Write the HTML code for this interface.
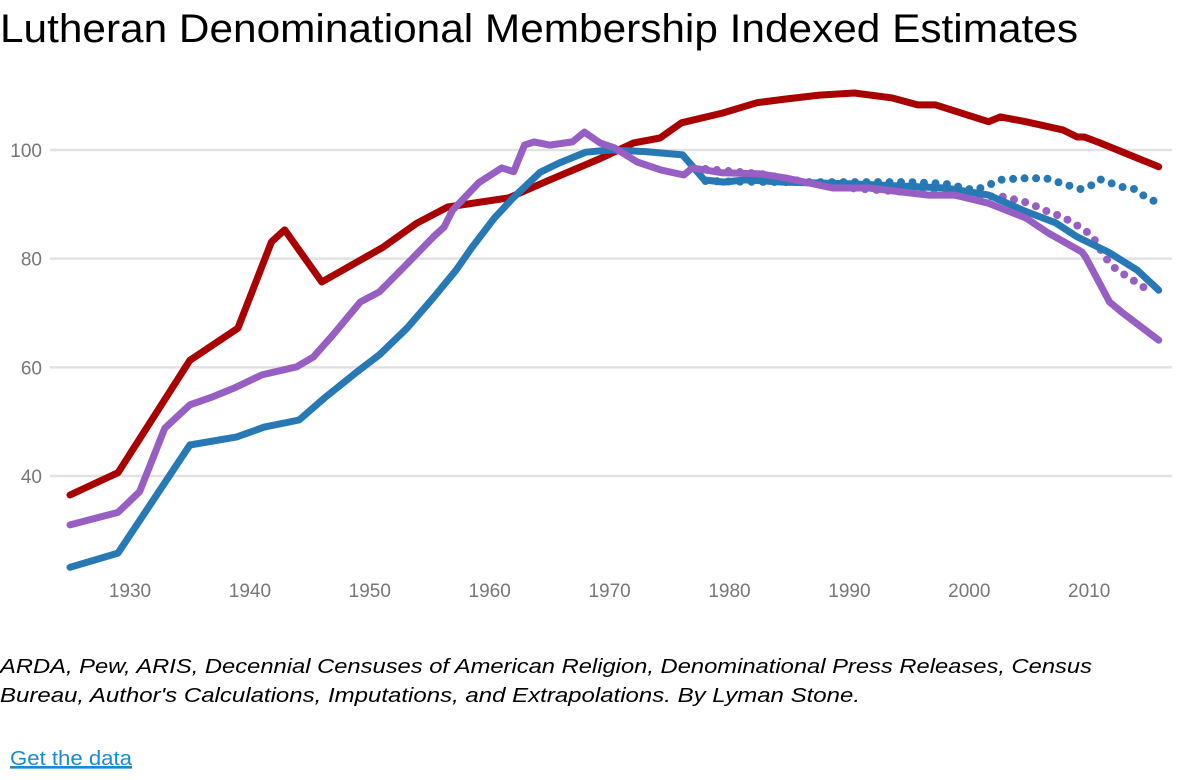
<!DOCTYPE html>
<html><head><meta charset="utf-8"><style>
html,body{margin:0;padding:0;background:#fff;}
svg{display:block;font-family:"Liberation Sans",Arial,sans-serif;}
</style></head><body>
<svg id="chart" width="1180" height="780" viewBox="0 0 1180 780" xmlns="http://www.w3.org/2000/svg">
<text x="0" y="42" font-size="40" fill="#000" textLength="1078" lengthAdjust="spacingAndGlyphs">Lutheran Denominational Membership Indexed Estimates</text>
<g id="grid"></g><g id="yticks"></g><g id="xticks"></g><g id="lines"></g>
<text x="0" y="673" font-size="20" font-style="italic" fill="#000" textLength="1092" lengthAdjust="spacingAndGlyphs">ARDA, Pew, ARIS, Decennial Censuses of American Religion, Denominational Press Releases, Census</text>
<text x="0" y="702" font-size="20" font-style="italic" fill="#000" textLength="860" lengthAdjust="spacingAndGlyphs">Bureau, Author's Calculations, Imputations, and Extrapolations. By Lyman Stone.</text>
<text x="10" y="765" font-size="20" fill="#1a8ad0" text-decoration="underline" textLength="122" lengthAdjust="spacingAndGlyphs">Get the data</text>
<line x1="10" y1="768" x2="132" y2="768" stroke="#1a8ad0" stroke-width="1.2"/>
</svg>
<script>
const yTicks=[40,60,80,100];
const xTicks=[1930,1940,1950,1960,1970,1980,1990,2000,2010];
const redYears=[1925,1929,1935,1939,1941.8,1942.9,1946,1951.1,1953.9,1956.5,1961.6,1965,1969.3,1972,1974.2,1976,1979.4,1982.3,1984.8,1987.5,1990.4,1993.5,1995.7,1997.2,2001.6,2002.6,2004.7,2007.8,2009,2009.6,2010.9,2015.8];
const redVals=[36.5,40.6,61.3,67.2,83.1,85.3,75.7,82.1,86.5,89.5,91.2,94.5,98.5,101.3,102.2,105,106.8,108.7,109.4,110.1,110.5,109.6,108.3,108.3,105.2,106.1,105.2,103.7,102.4,102.4,101.3,96.9];
const blueYears=[1925,1929,1935,1938.9,1941.2,1944.1,1946.3,1948.9,1950.8,1953.1,1955.3,1957.2,1958.5,1960.4,1962,1964.2,1965.8,1968,1970,1973,1976.1,1977.9,1979.5,1981.3,1984.5,1990,1995,1998,2000,2001.6,2004.7,2007.2,2009,2011.6,2014,2015.8];
const blueVals=[23.2,25.8,45.7,47.2,49,50.3,54.5,59.1,62.3,67.2,72.8,77.9,82,87.5,91.3,95.9,97.6,99.6,100,99.7,99.1,94.5,94.1,94.5,94.1,93.8,93.3,93,92.3,91.7,88.7,86.6,84,81.2,77.9,74.2];
const blueDotYears=[1978,1980,1984.5,1990,1995,1998,2000.4,2001.6,2002.5,2004.3,2006.4,2008.4,2009.3,2010.1,2010.9,2012.7,2013.8,2014.6,2015.6];
const blueDotVals=[94.3,94.2,94.1,94.1,94.1,93.8,92.6,93.5,94.5,94.8,94.8,93.4,92.8,93.4,94.6,93.2,92.8,91.5,90.4];
const purpleYears=[1925,1929,1930.8,1932.9,1935,1936.7,1938.7,1941,1943.9,1945.3,1946.9,1949.2,1950.8,1953,1955.3,1956.2,1956.9,1959.1,1961,1962,1962.9,1963.7,1965,1966.9,1967.9,1969.2,1970.4,1972.3,1974.3,1976.2,1976.9,1979.4,1982.6,1984.8,1988.6,1991.6,1996.6,1998.8,2001.6,2004.7,2006.6,2009.4,2009.7,2011.7,2012.8,2015.8];
const purpleVals=[31,33.3,37.1,48.8,53.1,54.4,56.2,58.6,60.1,61.9,65.9,72,73.9,78.8,84,85.8,88.9,94,96.7,96,100.9,101.5,100.9,101.5,103.3,101.3,100.4,97.8,96.3,95.4,96.7,95.8,95.6,94.8,93,93,91.7,91.7,90.2,87.5,84.7,81.2,80.3,72,70,65];
const purpleDotYears=[1978,1982.6,1988.6,1996.6,2000,2002.8,2005,2006.8,2007.8,2008.6,2009.5,2010.3,2010.8,2011.3,2012,2012.7,2013.6,2014.4,2015.4];
const purpleDotVals=[96.5,95.6,93.2,92,91.6,91.4,90.2,88.4,87.7,86.6,85.5,84,82.2,80.3,78.5,77.4,76.1,74.9,73.9];

const NS='http://www.w3.org/2000/svg';
const xS=y=>130+(y-1930)*11.99;
const yS=v=>150+(100-v)*5.433;
function mk(tag,attrs,parent){const e=document.createElementNS(NS,tag);for(const k in attrs)e.setAttribute(k,attrs[k]);document.getElementById(parent).appendChild(e);return e;}
yTicks.forEach(t=>{
  const g=mk('line',{x1:50,x2:1172,y1:yS(t),y2:yS(t),stroke:'#e2e2e2','stroke-width':2.5},'grid');
  
  
  const l=mk('text',{x:42,y:yS(t)+7,'text-anchor':'end','font-size':19,fill:'#777'},'yticks');
  l.textContent=t;
  
  
});
xTicks.forEach(t=>{
  const l=mk('text',{x:xS(t),y:597,'text-anchor':'middle','font-size':19,fill:'#777'},'xticks');
  l.textContent=t;
  
  
});
function path(ys,vs){return ys.map((y,i)=>(i?'L':'M')+xS(y).toFixed(1)+' '+yS(vs[i]).toFixed(1)).join(' ');}
function series(ys,vs,color,dotted,name){
  const a={d:path(ys,vs),fill:'none',stroke:color,'stroke-width':7,'stroke-linejoin':'round','stroke-linecap':'round'};
  if(dotted){a['stroke-dasharray']='0 11.5';a['stroke-width']=8;}
  const p=mk('path',a,'lines');
  
  
}
series(blueDotYears,blueDotVals,'#2779b6',true,'series-blue-dotted');
series(purpleDotYears,purpleDotVals,'#975ec3',true,'series-purple-dotted');
series(redYears,redVals,'#a90000',false,'series-red');
series(blueYears,blueVals,'#2779b6',false,'series-blue');
series(purpleYears,purpleVals,'#975ec3',false,'series-purple');
</script>
</body></html>
